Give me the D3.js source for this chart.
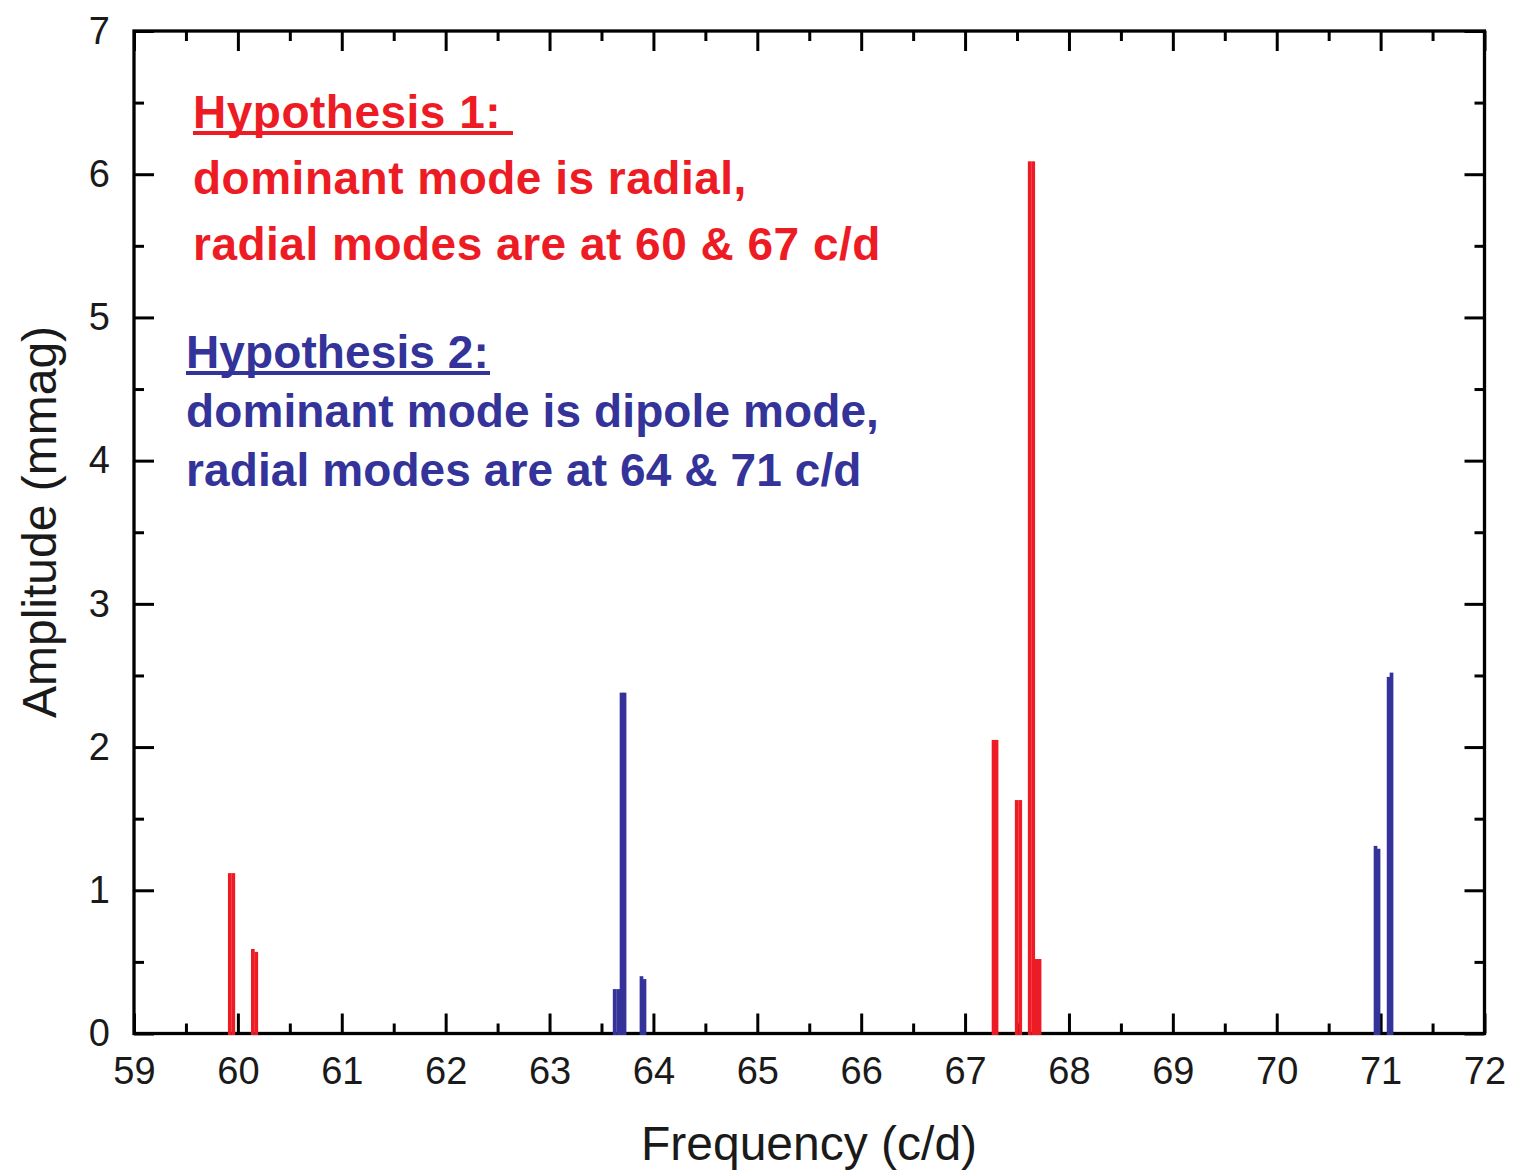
<!DOCTYPE html>
<html>
<head>
<meta charset="utf-8">
<script src="https://cdn.jsdelivr.net/npm/d3@7"></script>
<style>
  body { margin: 0; background: #fff; }
  svg { display: block; font-family: "Liberation Sans", Arial, sans-serif; }
</style>
</head>
<body>
<svg id="chart"></svg>
<script>
// raies rouges (hypothese 1) : frequence en c/d et amplitude en mmag
var redFreq = [59.922, 59.956, 60.144, 60.177, 67.274, 67.303, 67.497, 67.531, 67.622, 67.656, 67.688, 67.717];
var redAmp  = [1.12,   1.12,   0.59,   0.57,   2.05,   2.05,   1.63,   1.63,   6.09,   6.09,   0.52,   0.52];

// raies bleues (hypothese 2)
var blueFreq = [63.627, 63.661, 63.693, 63.722, 63.885, 63.914, 70.951, 70.980, 71.077, 71.105];
var blueAmp  = [0.31,   0.31,   2.38,   2.38,   0.40,   0.38,   1.31,   1.29,   2.49,   2.52];

var xTicks = [59, 60, 61, 62, 63, 64, 65, 66, 67, 68, 69, 70, 71, 72];
var xMinor = [59.5, 60.5, 61.5, 62.5, 63.5, 64.5, 65.5, 66.5, 67.5, 68.5, 69.5, 70.5, 71.5];
var yTicks = [0, 1, 2, 3, 4, 5, 6, 7];
var yMinor = [0.5, 1.5, 2.5, 3.5, 4.5, 5.5, 6.5];

var hyp1 = ["Hypothesis 1: ", "dominant mode is radial,", "radial modes are at 60 & 67 c/d"];
var hyp2 = ["Hypothesis 2:", "dominant mode is dipole mode,", "radial modes are at 64 & 71 c/d"];

var RED = "#ed1c24", BLUE = "#333399";

var svgWidth = 1521, svgHeight = 1172;
var margin = { top: 31, right: 36.5, bottom: 138.5, left: 134 };
var width = svgWidth - margin.left - margin.right;
var height = svgHeight - margin.top - margin.bottom;

var svg = d3.select("#chart")
    .attr("width", svgWidth)
    .attr("height", svgHeight);

var g = svg.append("g")
    .attr("transform", "translate(" + margin.left + "," + margin.top + ")");

var x = d3.scaleLinear().domain([59, 72]).range([0, width]);
var y = d3.scaleLinear().domain([0, 7]).range([height, 0]);

// styles communs des axes
function styleAxis(sel) {
    sel.select(".domain").remove();
    sel.selectAll(".tick line").attr("stroke", "#000").attr("stroke-width", 3);
    sel.selectAll(".tick text").attr("fill", "#1a1a1a").style("font-size", "38px");
}

// axe du bas avec les etiquettes
g.append("g")
    .attr("transform", "translate(0," + height + ")")
    .call(d3.axisBottom(x).tickValues(xTicks).tickSizeInner(-20).tickSizeOuter(0).tickPadding(24).tickFormat(d3.format("d")))
    .call(styleAxis);
g.append("g")
    .attr("transform", "translate(0," + height + ")")
    .call(d3.axisBottom(x).tickValues(xMinor).tickSizeInner(-10).tickSizeOuter(0).tickFormat(""))
    .call(styleAxis);

// axe du haut, sans texte
g.append("g")
    .call(d3.axisTop(x).tickValues(xTicks).tickSizeInner(-20).tickSizeOuter(0).tickFormat(""))
    .call(styleAxis);
g.append("g")
    .call(d3.axisTop(x).tickValues(xMinor).tickSizeInner(-10).tickSizeOuter(0).tickFormat(""))
    .call(styleAxis);

// axe de gauche
g.append("g")
    .call(d3.axisLeft(y).tickValues(yTicks).tickSizeInner(-20).tickSizeOuter(0).tickPadding(24).tickFormat(d3.format("d")))
    .call(styleAxis);
g.append("g")
    .call(d3.axisLeft(y).tickValues(yMinor).tickSizeInner(-10).tickSizeOuter(0).tickFormat(""))
    .call(styleAxis);

// axe de droite
g.append("g")
    .attr("transform", "translate(" + width + ",0)")
    .call(d3.axisRight(y).tickValues(yTicks).tickSizeInner(-20).tickSizeOuter(0).tickFormat(""))
    .call(styleAxis);
g.append("g")
    .attr("transform", "translate(" + width + ",0)")
    .call(d3.axisRight(y).tickValues(yMinor).tickSizeInner(-10).tickSizeOuter(0).tickFormat(""))
    .call(styleAxis);

// cadre
g.append("rect")
    .attr("width", width)
    .attr("height", height)
    .attr("fill", "none")
    .attr("stroke", "#000")
    .attr("stroke-width", 3.3);

// les raies : petites barres verticales
var barW = 3.7;
function drawLines(freq, amp, color) {
    var data = freq.map(function(f, i) { return { f: f, a: amp[i] }; });
    g.append("g").selectAll("rect")
        .data(data)
        .enter().append("rect")
        .attr("x", function(d) { return x(d.f) - barW / 2; })
        .attr("y", function(d) { return y(d.a); })
        .attr("width", barW)
        .attr("height", function(d) { return height - y(d.a) + 1.5; })
        .attr("fill", color);
}
drawLines(redFreq, redAmp, RED);
drawLines(blueFreq, blueAmp, BLUE);

// titres des axes
svg.append("text")
    .attr("x", 809)
    .attr("y", 1160)
    .attr("text-anchor", "middle")
    .style("font-size", "48px")
    .attr("fill", "#1a1a1a")
    .text("Frequency (c/d)");

svg.append("text")
    .attr("transform", "translate(56,522) rotate(-90)")
    .attr("text-anchor", "middle")
    .style("font-size", "48px")
    .attr("fill", "#1a1a1a")
    .text("Amplitude (mmag)");

// texte des hypotheses
function drawNote(lines, color, x0, y0, step, ulEnd, spacing) {
    var t = svg.append("g").attr("fill", color)
        .style("font-size", "46px").style("font-weight", "bold")
        .style("letter-spacing", spacing + "px");
    lines.forEach(function(s, i) {
        t.append("text")
            .attr("x", x0)
            .attr("y", y0 + i * step)
            .attr("xml:space", "preserve")
            .text(s);
    });
    svg.append("line")
        .attr("x1", x0).attr("x2", ulEnd)
        .attr("y1", y0 + 5).attr("y2", y0 + 5)
        .attr("stroke", color).attr("stroke-width", 4);
}
drawNote(hyp1, RED, 193, 128, 66, 513, 0.5);
drawNote(hyp2, BLUE, 186, 368, 59, 490, 0.1);
</script>
</body>
</html>
